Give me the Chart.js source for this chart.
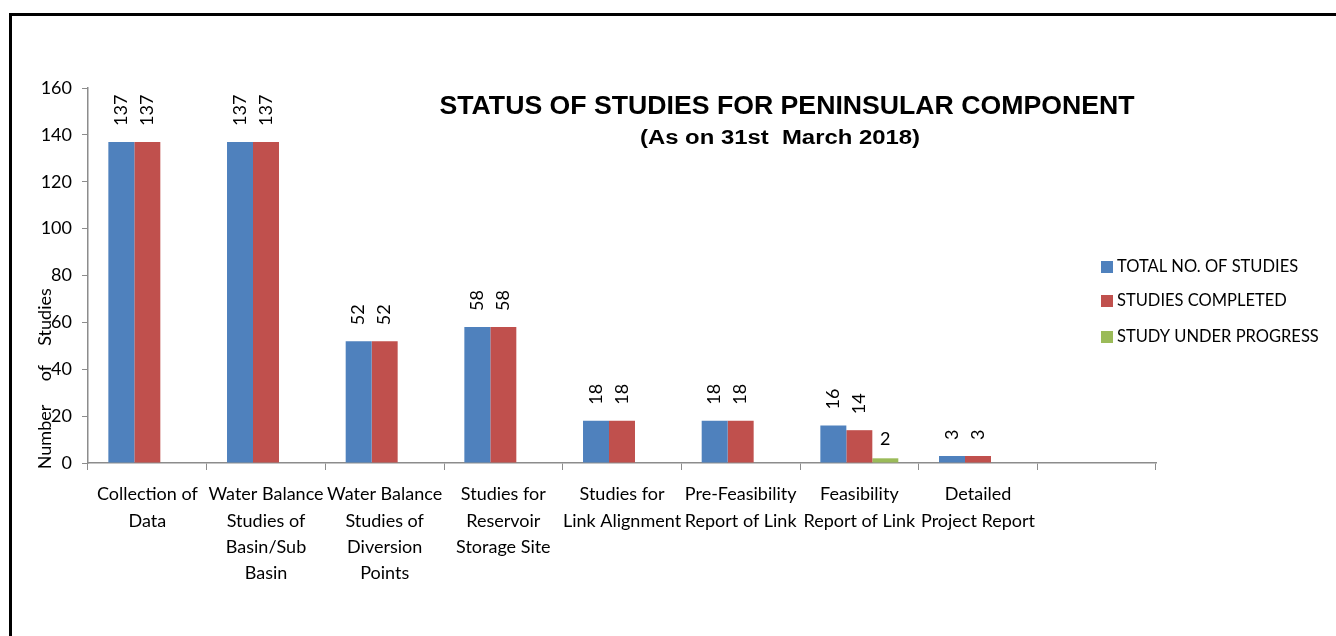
<!DOCTYPE html>
<html lang="en">
<head>
    <meta charset="UTF-8">
    <title>Status of Studies for Peninsular Component</title>
    <style>
        body { margin: 0; background: #fff; }
        #wrap { position: relative; width: 1336px; height: 636px; overflow: hidden; }
        #frame {
            position: absolute;
            left: 9px;
            top: 13px;
            width: 1400px;
            height: 700px;
            border-left: 3px solid #000;
            border-top: 3px solid #000;
            pointer-events: none;
        }
        #studyChart { position: absolute; left: 0; top: 0; }
    </style>
</head>
<body>
    <div id="wrap">
        <canvas id="studyChart" width="1336" height="636"></canvas>
        <div id="frame"></div>
    </div>

    <script src="https://cdn.jsdelivr.net/npm/chart.js"></script>

    <script>
    const categories = [
        ['Collection of', 'Data'],
        ['Water Balance', 'Studies of', 'Basin/Sub', 'Basin'],
        ['Water Balance', 'Studies of', 'Diversion', 'Points'],
        ['Studies for', 'Reservoir', 'Storage Site'],
        ['Studies for', 'Link Alignment'],
        ['Pre-Feasibility', 'Report of Link'],
        ['Feasibility', 'Report of Link'],
        ['Detailed', 'Project Report'],
        ''
    ];
    const totalStudies = [137, 137, 52, 58, 18, 18, 16, 3, null];
    const studiesCompleted = [137, 137, 52, 58, 18, 18, 14, 3, null];
    const underProgress = [0, 0, 0, 0, 0, 0, 2, 0, null];
    const yMin = 0, yMax = 160, yStep = 20;

    const bodyFamily = 'Lato, "Open Sans", sans-serif';
    const labelFont = '18px ' + bodyFamily;

    // value labels above bars (first two series rotated, third flat)
    const valueLabels = {
        id: 'valueLabels',
        afterDatasetsDraw(chart) {
            const ctx = chart.ctx;
            ctx.save();
            ctx.fillStyle = '#000';
            ctx.font = labelFont;
            chart.data.datasets.forEach((ds, i) => {
                const meta = chart.getDatasetMeta(i);
                meta.data.forEach((bar, j) => {
                    const v = ds.data[j];
                    if (!v) return;
                    if (i < 2) {
                        ctx.save();
                        ctx.translate(bar.x, bar.y - 16);
                        ctx.rotate(-Math.PI / 2);
                        ctx.textAlign = 'left';
                        ctx.textBaseline = 'middle';
                        ctx.fillText(String(v), 0, 0);
                        ctx.restore();
                    } else {
                        ctx.textAlign = 'center';
                        ctx.textBaseline = 'bottom';
                        ctx.fillText(String(v), bar.x, bar.y - 10);
                    }
                });
            });
            ctx.restore();
        }
    };

    function fitText(ctx, text, x, y, width) {
        const w = ctx.measureText(text).width;
        ctx.save();
        ctx.translate(x, y);
        ctx.scale(width / w, 1);
        ctx.fillText(text, 0, 0);
        ctx.restore();
    }

    // title, axis title and legend
    const decorations = {
        id: 'decorations',
        afterDraw(chart) {
            const ctx = chart.ctx;
            ctx.save();
            ctx.fillStyle = '#000';
            ctx.textAlign = 'center';
            ctx.textBaseline = 'middle';
            ctx.font = 'bold 25px "Liberation Sans", Arial, sans-serif';
            fitText(ctx, 'STATUS OF STUDIES FOR PENINSULAR COMPONENT', 787, 107, 695);
            ctx.font = 'bold 20px "Liberation Sans", Arial, sans-serif';
            fitText(ctx, '(As on 31st  March 2018)', 780, 138, 280);

            // y axis title, words spread like the original
            ctx.font = labelFont;
            [['Studies', 317], ['of', 373], ['Number', 437]].forEach(([word, cy]) => {
                ctx.save();
                ctx.translate(45, cy);
                ctx.rotate(-Math.PI / 2);
                ctx.fillText(word, 0, 0);
                ctx.restore();
            });

            ctx.textAlign = 'left';
            ctx.font = '16.5px ' + bodyFamily;
            const rows = [267, 301, 337];
            chart.data.datasets.forEach((ds, i) => {
                ctx.fillStyle = ds.backgroundColor;
                ctx.fillRect(1101, rows[i] - 6, 12, 12);
                ctx.fillStyle = '#000';
                ctx.fillText(ds.label, 1117, rows[i]);
            });
            ctx.restore();
        }
    };

    new Chart(document.getElementById('studyChart'), {
        type: 'bar',
        data: {
            labels: categories,
            datasets: [
                { label: 'TOTAL NO. OF STUDIES', data: totalStudies, backgroundColor: '#4F81BD' },
                { label: 'STUDIES COMPLETED', data: studiesCompleted, backgroundColor: '#C0504D' },
                { label: 'STUDY UNDER PROGRESS', data: underProgress, backgroundColor: '#9BBB59' }
            ]
        },
        options: {
            responsive: false,
            devicePixelRatio: 1,
            animation: false,
            datasets: {
                bar: { barPercentage: 1, categoryPercentage: 0.657 }
            },
            layout: { padding: { top: 88, right: 180, left: 0, bottom: 0 } },
            plugins: {
                legend: { display: false },
                title: { display: false },
                tooltip: { enabled: false }
            },
            scales: {
                x: {
                    grid: {
                        offset: true,
                        drawOnChartArea: false,
                        drawTicks: true,
                        tickLength: 7,
                        color: '#8c8c8c'
                    },
                    border: { display: true, color: '#8c8c8c', width: 1.5 },
                    ticks: {
                        color: '#000',
                        font: { family: bodyFamily, size: 18, lineHeight: 1.47 },
                        padding: 11,
                        maxRotation: 0,
                        autoSkip: false
                    },
                    afterFit(scale) { scale.height = 636 - 463; }
                },
                y: {
                    min: yMin,
                    max: yMax,
                    grid: {
                        drawOnChartArea: false,
                        drawTicks: true,
                        tickLength: 6,
                        color: '#8c8c8c'
                    },
                    border: { display: true, color: '#8c8c8c', width: 1.5 },
                    ticks: {
                        stepSize: yStep,
                        color: '#000',
                        font: { family: bodyFamily, size: 18 },
                        padding: 10
                    },
                    afterFit(scale) { scale.width = 88; }
                }
            }
        },
        plugins: [valueLabels, decorations]
    });
    </script>
</body>
</html>
